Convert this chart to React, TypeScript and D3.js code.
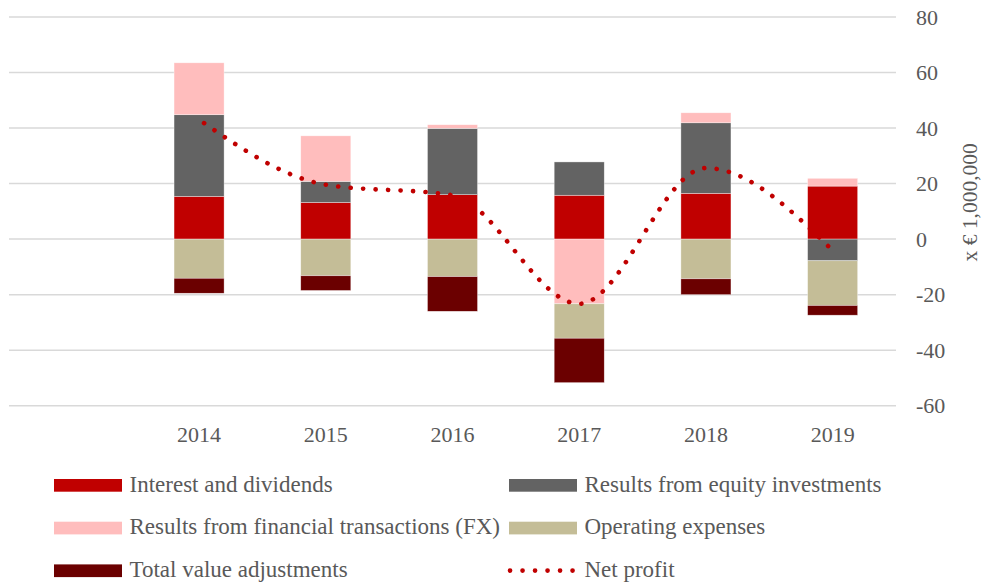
import React from "react";
import * as d3 from "d3";

const years = ["2014", "2015", "2016", "2017", "2018", "2019"];
const interestDividends = [15.4, 13.2, 16.0, 15.8, 16.5, 19.1];
const equityInvestments = [29.4, 7.6, 23.9, 12.0, 25.4, -7.8];
const financialTransactions = [18.7, 16.4, 1.3, -23.3, 3.6, 2.8];
const operatingExpenses = [-14.1, -13.2, -13.5, -12.4, -14.3, -16.1];
const valueAdjustments = [-5.4, -5.3, -12.5, -16.0, -5.7, -3.5];
const netProfit = [43.0, 19.6, 15.8, -23.3, 25.6, -4.1];
const yTicks = [-60, -40, -20, 0, 20, 40, 60, 80];

const seriesNames = [
  "Interest and dividends",
  "Results from equity investments",
  "Results from financial transactions (FX)",
  "Operating expenses",
  "Total value adjustments",
];
const seriesColors = ["#C00000", "#636363", "#FFBDBD", "#C4BD97", "#6B0000"];
const seriesValues = [
  interestDividends,
  equityInvestments,
  financialTransactions,
  operatingExpenses,
  valueAdjustments,
];

const W = 984;
const H = 587;
const FONT = "'Liberation Serif', 'Times New Roman', serif";
const TEXT = "#595959";

export default function App() {
  const categories = ["", ...years];
  const x = d3
    .scaleBand<string>()
    .domain(categories)
    .range([9, 896])
    .paddingInner(0.605)
    .paddingOuter(0.3025);
  const y = d3.scaleLinear().domain([-60, 80]).range([405.7, 17]);

  const rows = years.map((yr, i) => {
    const r: any = { year: yr };
    seriesNames.forEach((n, k) => (r[n] = seriesValues[k][i]));
    return r;
  });
  const stack = d3
    .stack<any>()
    .keys(seriesNames)
    .offset(d3.stackOffsetDiverging);
  const stacked = stack(rows);

  const cx = (yr: string) => (x(yr) as number) + x.bandwidth() / 2;
  const line = d3
    .line<number>()
    .x((_, i) => cx(years[i]))
    .y((d) => y(d))
    .curve(d3.curveMonotoneX);

  const legendItems = [
    { name: seriesNames[0], color: seriesColors[0], type: "bar" },
    { name: seriesNames[1], color: seriesColors[1], type: "bar" },
    { name: seriesNames[2], color: seriesColors[2], type: "bar" },
    { name: seriesNames[3], color: seriesColors[3], type: "bar" },
    { name: seriesNames[4], color: seriesColors[4], type: "bar" },
    { name: "Net profit", color: "#C00000", type: "line" },
  ];
  const legendCol = d3.scaleOrdinal<number, number>().domain([0, 1]).range([54, 509]);
  const legendRow = d3.scaleLinear().domain([0, 1]).range([491.7, 534.4]);

  return (
    <svg width={W} height={H} style={{ position: "absolute", left: 0, top: 0, background: "#fff" }}>
      {yTicks.map((t) => (
        <line key={t} x1={9} x2={896} y1={y(t)} y2={y(t)} stroke="#d9d9d9" strokeWidth={1.5} />
      ))}
      {stacked.map((s, k) => (
        <g key={s.key} fill={seriesColors[k]}>
          {s.map((d, i) => {
            const top = y(Math.max(d[0], d[1]));
            const bot = y(Math.min(d[0], d[1]));
            if (Math.abs(d[1] - d[0]) < 1e-9) return null;
            return (
              <rect
                key={i}
                x={x(years[i]) as number}
                y={top}
                width={x.bandwidth()}
                height={bot - top}
                stroke="#ffffff"
                strokeOpacity={0.6}
                strokeWidth={0.6}
              />
            );
          })}
        </g>
      ))}
      <path
        d={line(netProfit) || ""}
        fill="none"
        stroke="#C00000"
        strokeWidth={4.6}
        strokeLinecap="round"
        strokeDasharray="0.1 12.4"
        strokeDashoffset={-6}
      />
      {yTicks.map((t) => (
        <text key={t} x={916} y={y(t)} dy="0.35em" fontFamily={FONT} fontSize={22} fill={TEXT}>
          {t}
        </text>
      ))}
      {years.map((yr) => (
        <text key={yr} x={cx(yr)} y={442} textAnchor="middle" fontFamily={FONT} fontSize={22} fill={TEXT}>
          {yr}
        </text>
      ))}
      <text
        transform={`translate(970, ${(y(-60) + y(80)) / 2 - 9}) rotate(-90)`}
        textAnchor="middle"
        dy="0.32em"
        fontFamily={FONT}
        fontSize={21.5}
        fill={TEXT}
      >
        x € 1,000,000
      </text>
      {legendItems.map((it, i) => {
        const col = i % 2;
        const row = Math.floor(i / 2);
        const lx = legendCol(col);
        const ly = legendRow(row);
        return (
          <g key={it.name}>
            {it.type === "bar" ? (
              <rect x={lx} y={ly - 12.7} width={68} height={12.7} fill={it.color} />
            ) : (
              <line
                x1={lx + 1}
                x2={lx + 64}
                y1={ly - 6.5}
                y2={ly - 6.5}
                stroke={it.color}
                strokeWidth={4.6}
                strokeLinecap="round"
                strokeDasharray="0.1 12.4"
              />
            )}
            <text x={lx + 75.5} y={ly} fontFamily={FONT} fontSize={23} fill={TEXT}>
              {it.name}
            </text>
          </g>
        );
      })}
    </svg>
  );
}
